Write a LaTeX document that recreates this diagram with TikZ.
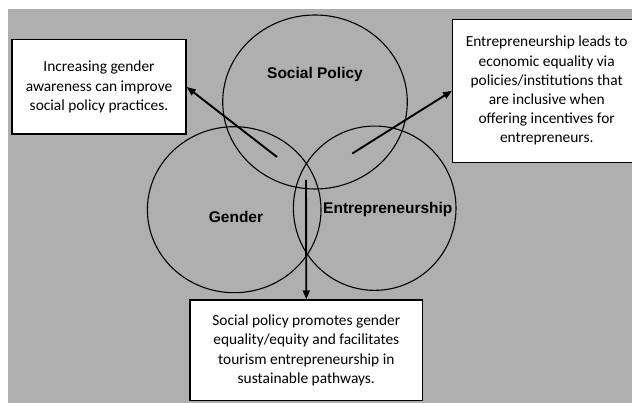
\documentclass[tikz,border=0pt]{standalone}
\usepackage{fontspec}
\setmainfont{Carlito}
\newfontfamily\labelfont{Liberation Sans}
\usetikzlibrary{arrows.meta,shapes.geometric}
\definecolor{panelgray}{RGB}{175,175,175}
\tikzset{
  ring/.style={draw, line width=1.1pt, ellipse, inner sep=0pt},
  note/.style={draw, line width=1.4pt, fill=white, align=center, inner sep=0pt,
    font=\fontsize{15.4}{19.2}\selectfont},
  link/.style={line width=1.9pt, -{Triangle[length=9pt,width=7pt]}},
  tag/.style={anchor=base, font=\labelfont\bfseries\fontsize{15.5}{18}\selectfont}
}

\begin{document}
\begin{tikzpicture}[x=1pt,y=-1pt]
\useasboundingbox (0,0) rectangle (632,403);
\clip (0,0) rectangle (632,403);
\fill[panelgray] (8,9) rectangle (640,410);

\node[ring, minimum width=184.6, minimum height=174] (policy) at (315,102) {};
\node[ring, minimum width=173.6, minimum height=166] (gender) at (234.2,209.7) {};
\node[ring, minimum width=162.6, minimum height=164.3] (entre) at (374.7,208.2) {};

\node[tag] (policylabel) at (315,78.3) {Social Policy};
\node[tag] (genderlabel) at (236,222.3) {Gender};
\node[tag] (entrelabel) at (387.8,213.3) {Entrepreneurship};

\node[note, minimum width=174, minimum height=94.4] (awareness) at (99,87)
  {Increasing gender\\awareness can improve\\social policy practices.};
\node[note, minimum width=188, minimum height=143] (equality) at (546.7,90.8)
  {Entrepreneurship leads to\\economic equality via\\policies/institutions that\\are inclusive when\\offering incentives for\\entrepreneurs.};
\node[note, minimum width=232.7, minimum height=100.7] (promotes) at (306.3,350.4)
  {Social policy promotes gender\\equality/equity and facilitates\\tourism entrepreneurship in\\sustainable pathways.};

\coordinate (fromgender) at (277,157);
\coordinate (fromentre) at (352.3,153.5);
\coordinate (fromcore) at (306,180);

\draw[link] (fromgender) -- (awareness.east);
\draw[link] (fromentre) -- (equality.west);
\draw[link] (fromcore) -- (promotes.north);
\end{tikzpicture}
\end{document}
